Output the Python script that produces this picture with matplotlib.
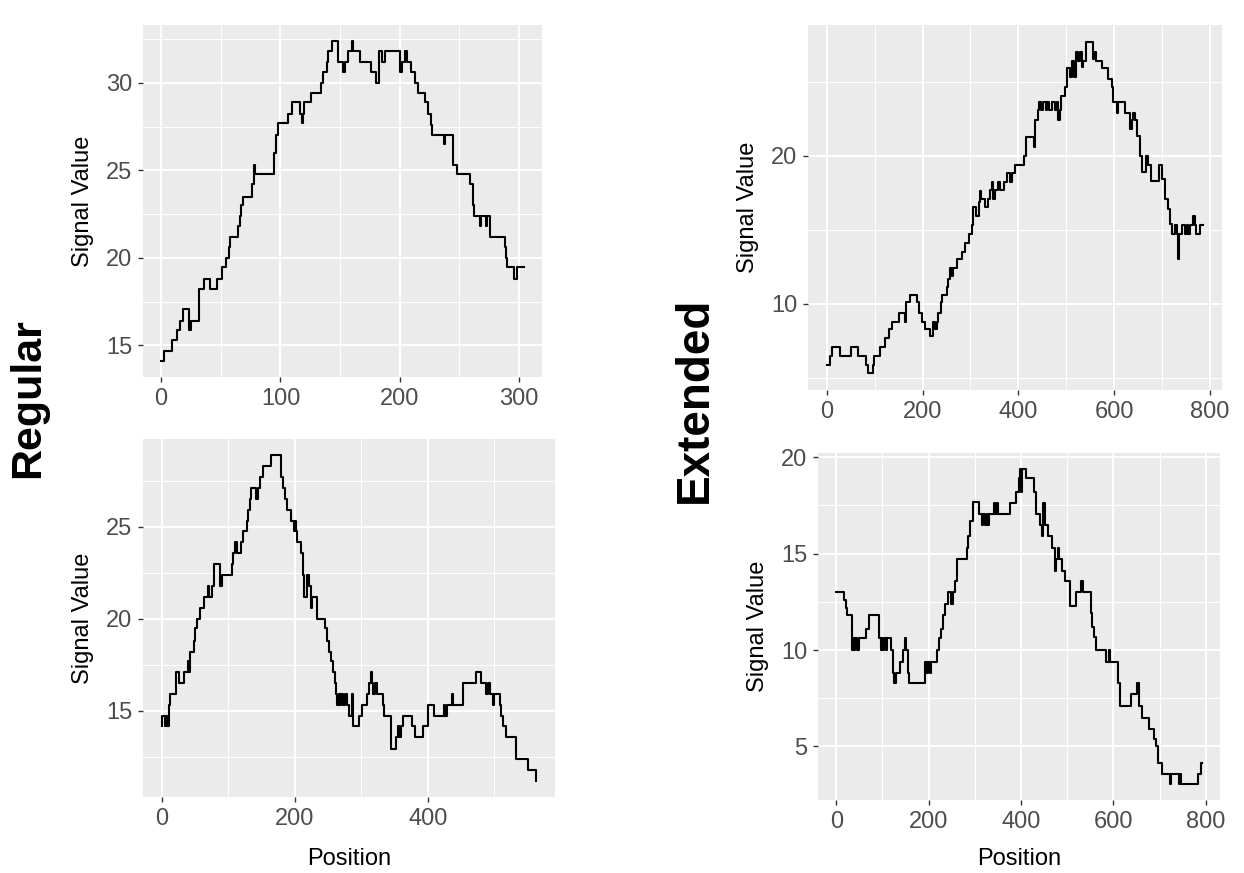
# -*- coding: utf-8 -*-
"""
Signal value along position, regular vs extended (ggplot-like look)
"""
import matplotlib
matplotlib.use("Agg")
import matplotlib.pyplot as plt

plt.rcParams['font.family'] = ['Liberation Sans', 'DejaVu Sans']

# regular, top panel (step positions, value held until next position)
reg_top_pos = [0, 2, 9, 13, 16, 18, 23, 25, 32, 36, 41, 47, 51, 54, 57, 58, 64, 66, 67, 69,
               76, 78, 79, 95, 96, 98, 106, 110, 116, 118, 119, 120, 126, 134, 136, 139, 140, 143, 148, 152,
               154, 157, 160, 161, 167, 176, 180, 183, 185, 188, 200, 202, 204, 206, 209, 213, 215, 221, 224, 226,
               227, 237, 238, 245, 248, 259, 261, 262, 267, 268, 272, 273, 276, 288, 289, 290, 296, 298, 304]
reg_top_val = [14.1, 14.7, 15.3, 15.9, 16.4, 17.1, 15.9, 16.4, 18.2, 18.8, 18.2, 18.8, 19.5, 20.0, 20.6, 21.2, 21.8, 22.4, 23.0, 23.5,
               24.2, 25.3, 24.8, 26.0, 27.0, 27.7, 28.2, 28.9, 28.2, 27.7, 28.2, 28.9, 29.4, 30.0, 30.6, 31.2, 31.8, 32.4, 31.2, 30.6,
               31.2, 31.8, 32.4, 31.8, 31.2, 30.6, 30.0, 31.8, 31.2, 31.8, 30.6, 31.2, 31.8, 31.2, 30.6, 30.0, 29.4, 28.9, 28.2, 27.6,
               27.0, 26.5, 27.0, 25.3, 24.8, 24.2, 23.0, 22.4, 21.8, 22.4, 21.8, 22.4, 21.2, 20.6, 20.0, 19.5, 18.8, 19.5, 19.5]

# regular, bottom panel
reg_bot_pos = [0, 1, 5, 6, 8, 11, 12, 21, 22, 26, 33, 39, 41, 43, 49, 50, 53, 57, 64, 69,
               71, 75, 78, 88, 90, 106, 107, 110, 113, 119, 122, 128, 130, 132, 134, 141, 144, 147, 152, 164,
               179, 183, 186, 189, 194, 199, 200, 202, 204, 210, 212, 214, 219, 221, 224, 226, 234, 246, 249, 252,
               254, 258, 261, 262, 264, 266, 268, 270, 272, 275, 278, 281, 286, 288, 297, 301, 309, 311, 314, 316,
               318, 320, 323, 333, 334, 344, 345, 352, 355, 357, 359, 362, 376, 381, 393, 400, 410, 425, 426, 429,
               436, 438, 453, 473, 480, 488, 490, 494, 498, 500, 508, 510, 513, 517, 533, 550, 562, 563]
reg_bot_val = [14.15, 14.7, 14.15, 14.7, 14.15, 15.3, 15.9, 16.5, 17.1, 16.5, 17.1, 17.7, 17.1, 18.2, 18.8, 19.5, 20.0, 20.6, 21.2, 21.8,
               21.2, 21.8, 23.0, 21.8, 22.4, 23.0, 23.6, 24.2, 23.6, 24.2, 24.8, 25.3, 25.9, 26.5, 27.1, 26.5, 27.1, 27.7, 28.3, 28.9,
               27.7, 27.1, 26.5, 25.9, 25.3, 24.8, 25.3, 24.8, 24.2, 23.6, 22.4, 21.2, 22.4, 21.8, 20.6, 21.2, 20.0, 19.5, 18.8, 18.2,
               17.7, 17.1, 16.5, 15.9, 15.3, 15.9, 15.3, 15.9, 15.3, 15.9, 15.3, 14.7, 15.9, 14.15, 14.7, 15.3, 15.9, 16.5, 17.1, 16.5,
               15.9, 16.5, 15.9, 15.3, 14.7, 13.6, 12.95, 13.6, 14.15, 13.6, 14.15, 14.7, 14.15, 13.6, 14.15, 15.3, 14.7, 15.3, 14.7, 15.3,
               15.9, 15.3, 16.5, 17.1, 16.5, 15.9, 16.5, 15.9, 15.3, 15.9, 15.3, 14.7, 14.15, 13.6, 12.4, 11.8, 11.2, 11.2]

# extended, top panel
ext_top_pos = [0, 6, 10, 28, 51, 66, 82, 87, 96, 99, 111, 122, 130, 136, 150, 163, 166, 174, 188, 193,
               198, 205, 216, 221, 226, 230, 233, 238, 240, 252, 254, 257, 261, 264, 271, 282, 289, 296, 303, 306,
               312, 317, 320, 323, 331, 336, 341, 344, 348, 351, 358, 362, 369, 376, 383, 386, 393, 412, 417, 433,
               435, 440, 444, 447, 452, 458, 460, 463, 470, 476, 480, 483, 486, 490, 497, 501, 508, 511, 516, 520,
               525, 529, 532, 536, 541, 555, 558, 563, 574, 588, 595, 598, 605, 609, 623, 633, 637, 640, 643, 648,
               654, 659, 666, 671, 678, 694, 699, 706, 713, 717, 720, 727, 731, 733, 735, 741, 748, 752, 755, 759,
               765, 768, 772, 779, 786]
ext_top_val = [5.9, 6.5, 7.1, 6.5, 7.1, 6.5, 5.9, 5.3, 5.9, 6.5, 7.1, 7.7, 8.3, 8.8, 9.4, 8.8, 10.1, 10.6, 10.1, 9.4,
               8.8, 8.3, 7.8, 8.8, 8.3, 8.8, 9.4, 10.1, 10.6, 11.1, 11.7, 12.4, 11.9, 12.4, 13.0, 13.5, 14.1, 14.7, 15.3, 16.5,
               15.9, 16.9, 17.6, 17.05, 16.5, 17.05, 17.7, 18.2, 17.05, 17.7, 18.2, 17.7, 18.2, 18.8, 18.2, 18.8, 19.4, 20.0, 21.25, 20.6,
               22.4, 23.1, 23.6, 23.1, 23.6, 23.1, 23.6, 23.1, 23.6, 23.1, 23.6, 22.4, 23.1, 24.0, 24.65, 25.9, 25.3, 26.4, 25.3, 27.0,
               26.4, 27.0, 26.0, 26.4, 27.7, 26.55, 27.0, 26.4, 25.9, 25.2, 24.65, 23.6, 22.9, 23.6, 22.9, 21.8, 22.4, 22.9, 22.4, 21.3,
               20.0, 18.9, 20.0, 19.4, 18.3, 19.4, 18.4, 17.05, 16.4, 15.4, 14.7, 15.3, 14.7, 13.0, 14.7, 15.3, 14.7, 15.3, 14.7, 15.3,
               15.9, 15.3, 14.7, 15.3, 15.3]

# extended, bottom panel
ext_bot_pos = [0, 16, 20, 23, 33, 34, 37, 39, 41, 44, 49, 65, 71, 93, 96, 98, 100, 103, 107, 110,
               118, 122, 125, 129, 138, 144, 149, 152, 156, 158, 191, 193, 196, 199, 203, 206, 217, 222, 226, 231,
               236, 242, 249, 252, 257, 262, 282, 286, 290, 297, 308, 316, 318, 321, 326, 328, 331, 341, 344, 347,
               350, 376, 390, 396, 397, 399, 401, 410, 428, 432, 442, 446, 448, 452, 458, 468, 473, 476, 480, 483,
               488, 494, 505, 519, 530, 533, 551, 554, 558, 563, 583, 590, 593, 609, 614, 638, 651, 656, 662, 677,
               687, 691, 697, 704, 722, 724, 742, 744, 747, 784, 790, 791]
ext_bot_val = [13.0, 12.6, 12.2, 11.8, 10.6, 10.0, 10.6, 10.0, 10.6, 10.0, 10.6, 11.1, 11.8, 10.6, 10.0, 10.6, 10.0, 10.6, 10.0, 10.6,
               10.0, 8.8, 8.3, 8.8, 9.4, 10.0, 10.6, 10.0, 8.8, 8.3, 8.8, 9.4, 8.8, 9.4, 8.8, 9.4, 10.0, 10.6, 11.1, 11.8,
               12.4, 13.0, 12.4, 13.0, 13.6, 14.7, 15.3, 15.9, 16.7, 17.7, 17.05, 16.5, 17.05, 16.5, 17.05, 16.5, 17.05, 17.6, 17.05, 17.6,
               17.05, 17.6, 18.2, 18.9, 19.4, 18.2, 19.4, 18.9, 18.2, 17.05, 16.5, 15.9, 17.6, 16.5, 15.9, 15.3, 14.1, 14.7, 15.3, 14.7,
               14.1, 13.6, 12.3, 13.0, 13.6, 13.0, 11.9, 11.2, 10.7, 10.0, 9.4, 10.0, 9.4, 8.3, 7.1, 7.7, 8.3, 7.1, 6.5, 5.9,
               5.4, 5.0, 4.15, 3.55, 3.04, 3.55, 3.04, 3.55, 3.04, 3.55, 4.15, 4.15]

W, H = 1244, 873


def px_rect(left, top, right, bottom):
    return [left / W, 1 - bottom / H, (right - left) / W, (bottom - top) / H]


def gg_panel(ax, pos, val, xmajor, xminor, ymajor, yminor, xlabel=None, xpad=14):
    ax.set_facecolor('#EBEBEB')
    for s in ax.spines.values():
        s.set_visible(False)
    ax.plot(pos, val, drawstyle='steps-post', color='black', linewidth=1.5, zorder=3)

    # ggplot default 5% expansion
    xspan = max(pos) - min(pos)
    yspan = max(val) - min(val)
    ax.set_xlim(min(pos) - 0.05 * xspan, max(pos) + 0.05 * xspan)
    ax.set_ylim(min(val) - 0.05 * yspan, max(val) + 0.05 * yspan)

    ax.set_xticks(xmajor)
    ax.set_xticks(xminor, minor=True)
    ax.set_yticks(ymajor)
    ax.set_yticks(yminor, minor=True)
    ax.grid(which='major', color='white', linewidth=1.4, zorder=0)
    ax.grid(which='minor', color='white', linewidth=0.7, zorder=0)
    ax.set_axisbelow(True)
    ax.tick_params(which='major', length=3.6, width=1.0, color='#333333',
                   labelcolor='#4D4D4D', labelsize=17, pad=4)
    ax.tick_params(which='minor', length=0)
    ax.set_ylabel('Signal Value', fontsize=17, color='black', labelpad=9)
    if xlabel:
        ax.set_xlabel(xlabel, fontsize=17, color='black', labelpad=xpad)


fig = plt.figure(figsize=(W / 100, H / 100), dpi=100)

ax1 = fig.add_axes(px_rect(143, 25, 542, 377))
gg_panel(ax1, reg_top_pos, reg_top_val, [0, 100, 200, 300], [50, 150, 250],
         [15, 20, 25, 30], [17.5, 22.5, 27.5, 32.5])

ax2 = fig.add_axes(px_rect(143, 439, 555, 797))
gg_panel(ax2, reg_bot_pos, reg_bot_val, [0, 200, 400], [100, 300, 500],
         [15, 20, 25], [12.5, 17.5, 22.5, 27.5], xlabel='Position', xpad=13)

ax3 = fig.add_axes(px_rect(808, 25, 1222, 390))
gg_panel(ax3, ext_top_pos, ext_top_val, [0, 200, 400, 600, 800], [100, 300, 500, 700],
         [10, 20], [5, 15, 25])

ax4 = fig.add_axes(px_rect(818, 453, 1220, 800))
gg_panel(ax4, ext_bot_pos, ext_bot_val, [0, 200, 400, 600, 800], [100, 300, 500, 700],
         [5, 10, 15, 20], [7.5, 12.5, 17.5], xlabel='Position', xpad=11)

fig.text(28 / W, 1 - 398 / H, 'Regular', rotation=90, fontsize=31, fontweight='bold',
         ha='center', va='center')
fig.text(695 / W, 1 - 400 / H, 'Extended', rotation=90, fontsize=33, fontweight='bold',
         ha='center', va='center')

fig.savefig('out.png', dpi=100)
